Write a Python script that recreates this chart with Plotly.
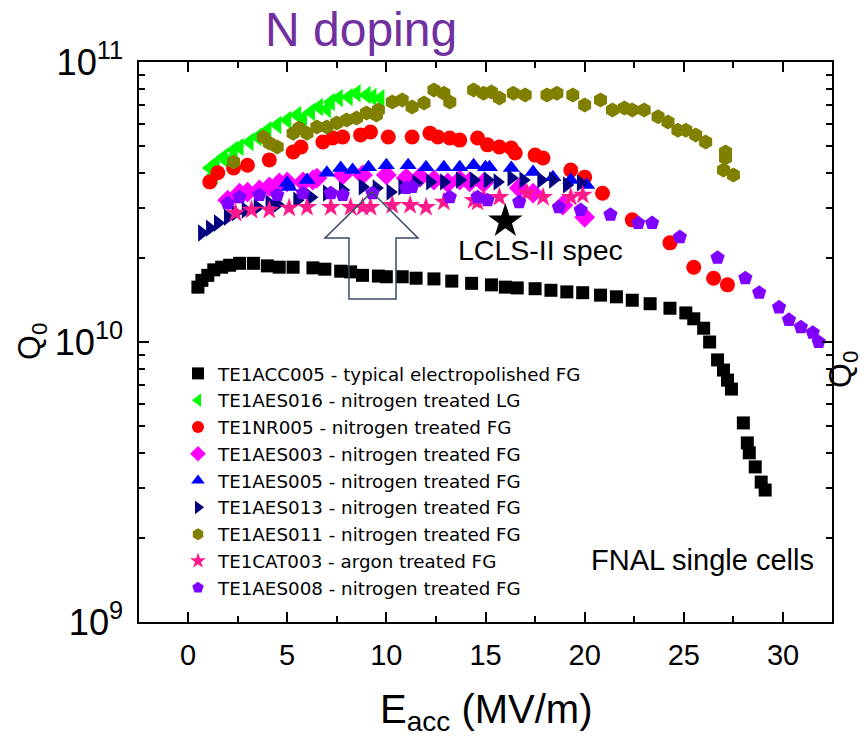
import plotly.graph_objects as go

# ---------------- data (E_acc in MV/m, Q0 in units of 1e10) ----------------
black_x = [0.5,0.7,1.0,1.3,1.7,2.1,2.6,3.3,4.0,4.6,5.3,6.3,6.9,7.7,8.2,8.8,9.6,10.0,10.8,11.5,12.4,13.3,14.3,15.3,16.0,16.6,17.5,18.3,19.1,19.9,20.8,21.6,22.4,23.3,24.3,25.1,25.5,26.0,26.3,26.7,27.0,27.2,27.4,28.0,28.2,28.3,28.6,28.9,29.1]
black_y = [1.57,1.66,1.73,1.81,1.85,1.88,1.91,1.91,1.87,1.85,1.85,1.84,1.82,1.79,1.78,1.73,1.72,1.71,1.71,1.69,1.68,1.65,1.62,1.60,1.57,1.56,1.55,1.53,1.51,1.50,1.47,1.45,1.41,1.37,1.32,1.27,1.21,1.12,1.00,0.863,0.794,0.731,0.679,0.514,0.436,0.402,0.358,0.316,0.296]

green_x = [1.1,1.3,1.4,1.8,2.0,2.3,2.6,3.1,3.5,4.0,4.5,5.0,5.5,5.8,6.2,6.6,7.0,7.2,7.6,8.1,8.5,9.0,9.3,9.7]
green_y = [4.18,3.95,4.35,4.58,4.40,4.85,4.97,5.18,5.40,5.71,5.96,6.21,6.47,6.30,6.63,6.91,6.80,7.20,7.43,7.50,7.74,7.62,7.50,7.43]

red_x = [1.1,1.5,2.3,3.0,4.1,5.3,5.7,6.8,7.3,7.8,8.7,9.2,10.1,11.3,12.2,12.6,13.2,13.7,14.6,15.1,15.7,16.3,16.5,17.5,17.9,19.3,20.0,20.9,22.4,24.3,25.5,26.5,27.2]
red_y = [3.73,4.02,4.18,4.28,4.47,4.77,4.97,5.18,5.35,5.40,5.49,5.62,5.40,5.40,5.57,5.40,5.35,5.26,5.35,5.06,4.97,4.93,4.73,4.65,4.54,4.11,3.88,3.40,2.73,2.26,1.85,1.69,1.60]

magenta_x = [2.0,2.6,3.0,3.6,4.1,4.6,5.0,5.8,6.3,6.5,7.8,8.8,10.0,11.0,11.7,12.4,13.1,13.7,14.2,14.9,16.7,17.4,18.9,20.0]
magenta_y = [3.21,3.40,3.43,3.49,3.58,3.70,3.73,3.73,3.79,3.85,3.95,3.95,3.95,3.85,3.88,3.79,3.70,3.79,3.73,3.70,3.55,3.40,3.08,2.79]

blue_x = [5.0,5.1,6.0,7.0,7.7,8.3,9.1,10.0,11.1,12.0,12.9,13.7,14.4,15.0,15.2,16.3,17.4,18.4,19.3,20.1]
blue_y = [3.70,3.58,3.79,4.02,4.18,4.11,4.21,4.28,4.28,4.21,4.21,4.21,4.28,4.21,4.21,4.18,4.05,3.88,3.79,3.64]

navy_x = [0.7,1.1,1.5,2.0,2.4,2.9,3.5,4.1,4.5,5.5,6.2,7.0,7.8,8.8,9.5,10.2,10.8,11.5,12.2,12.9,13.7,14.4,15.1,15.6,16.3,16.9,17.8,18.4,19.1,19.8]
navy_y = [2.45,2.55,2.66,2.79,2.89,2.96,3.03,3.13,3.10,3.21,3.29,3.40,3.49,3.58,3.55,3.43,3.58,3.70,3.73,3.73,3.79,3.79,3.79,3.73,3.85,3.79,3.79,3.79,3.64,3.70]

olive_x = [2.3,3.8,4.1,4.5,5.3,5.6,6.0,6.5,7.0,7.5,8.0,8.5,9.0,9.5,9.6,10.3,10.8,11.3,11.9,12.4,12.9,13.2,14.4,14.9,15.3,15.7,16.4,17.0,18.1,18.6,19.4,20.0,20.8,21.4,22.0,22.4,23.0,23.7,24.2,24.7,25.1,25.6,26.1,27.1,27.1,27.0,27.5]
olive_y = [4.39,5.40,5.14,4.97,5.57,5.81,5.57,5.86,5.86,6.05,6.21,6.31,6.58,6.47,6.74,7.20,7.31,6.91,7.14,7.94,7.74,7.20,7.94,7.74,7.81,7.43,7.74,7.62,7.62,7.74,7.62,7.02,7.31,6.74,6.85,6.74,6.74,6.37,6.11,5.71,5.71,5.49,5.18,4.77,4.54,4.11,3.95]

pink_x = [2.4,3.2,4.1,5.1,6.0,7.2,8.2,8.8,9.2,10.3,11.2,12.0,12.9,14.4,14.6,14.9,15.7,17.1,17.9,19.3,19.9]
pink_y = [2.89,2.96,2.96,3.01,3.03,3.03,3.03,3.03,3.03,3.08,3.08,3.03,3.16,3.21,3.16,3.29,3.29,3.40,3.29,3.29,3.35]

purple_x = [2.0,2.6,3.6,4.5,5.8,7.2,7.8,9.3,11.0,11.3,13.2,14.6,15.1,16.7,18.7,19.8,21.3,22.7,23.4,24.8,26.7,28.1,28.8,29.8,30.3,30.9,31.5,31.8]
purple_y = [3.13,3.29,3.35,3.35,3.40,3.40,3.35,3.40,3.55,3.58,3.29,3.29,3.21,3.16,3.03,2.96,2.85,2.66,2.66,2.37,2.00,1.69,1.50,1.33,1.20,1.13,1.08,1.00]

spec_x = [16.0]
spec_y = [2.7]

SCALE = 1e10

series = [
    ("TE1ACC005 - typical electropolished FG", black_x, black_y, "#000000", "square", 13),
    ("TE1AES016 - nitrogen treated LG", green_x, green_y, "#00FF00", "triangle-left", 16),
    ("TE1NR005 - nitrogen treated FG", red_x, red_y, "#FF0000", "circle", 15),
    ("TE1AES003 - nitrogen treated FG", magenta_x, magenta_y, "#FF00FF", "diamond", 16),
    ("TE1AES005 - nitrogen treated FG", blue_x, blue_y, "#0000FF", "triangle-up", 15),
    ("TE1AES013 - nitrogen treated FG", navy_x, navy_y, "#000080", "triangle-right", 15),
    ("TE1AES011 - nitrogen treated FG", olive_x, olive_y, "#808000", "hexagon", 15),
    ("TE1CAT003 - argon treated FG", pink_x, pink_y, "#FF1A8C", "star", 15),
    ("TE1AES008 - nitrogen treated FG", purple_x, purple_y, "#8000FF", "pentagon", 15),
]

fig = go.Figure()
for i, (name, xs, ys, col, sym, sz) in enumerate(series):
    fig.add_trace(go.Scatter(
        x=xs, y=[v * SCALE for v in ys], mode="markers", name=name,
        marker=dict(color=col, symbol=sym, size=sz, line=dict(width=0)),
    ))

fig.add_trace(go.Scatter(
    x=spec_x, y=[v * SCALE for v in spec_y], mode="markers", showlegend=False,
    marker=dict(color="#000000", symbol="star", size=26, line=dict(width=0)),
))

SANS = "Liberation Sans, Arial, sans-serif"
axis_font = dict(family=SANS, size=29, color="#000000")

fig.update_xaxes(
    range=[-2.47, 32.47], dtick=5, tick0=0,
    ticks="inside", ticklen=10, tickwidth=1.5, tickcolor="#000",
    minor=dict(dtick=2.5, ticks="inside", ticklen=6, tickwidth=1.5, tickcolor="#000"),
    showline=True, linewidth=2, linecolor="#000", mirror="allticks",
    showgrid=False, zeroline=False, tickfont=axis_font, ticklabelstandoff=6,
)
fig.update_yaxes(
    type="log", range=[9, 11], dtick=1, exponentformat="power",
    ticks="inside", ticklen=10, tickwidth=1.5, tickcolor="#000",
    minor=dict(dtick="D1", ticks="inside", ticklen=6, tickwidth=1.5, tickcolor="#000"),
    showline=True, linewidth=2, linecolor="#000", mirror="allticks",
    showgrid=False, zeroline=False, tickfont=axis_font, ticklabelstandoff=8,
)

def px(xp):
    return (xp - 139) / 693

def py(yp):
    return (622 - yp) / 560

fig.update_layout(
    width=862, height=739,
    margin=dict(l=139, r=30, t=62, b=117),
    paper_bgcolor="white", plot_bgcolor="white",
    showlegend=True,
    legend=dict(
        x=px(178), y=py(355), xanchor="left", yanchor="top",
        bgcolor="rgba(0,0,0,0)", borderwidth=0,
        font=dict(family="DejaVu Sans, Verdana, sans-serif", size=18.3, color="#000"),
        itemsizing="constant", tracegroupgap=0,
    ),
    annotations=[
        dict(text="N doping", x=px(361), y=py(30), xref="paper", yref="paper",
             xanchor="center", yanchor="middle", showarrow=False,
             font=dict(family=SANS, size=48, color="#7030A0")),
        dict(text="E<sub>acc</sub> (MV/m)", x=0.5, y=py(712), xref="paper", yref="paper",
             xanchor="center", yanchor="middle", showarrow=False,
             font=dict(family=SANS, size=40, color="#000")),
        dict(text="Q<sub>0</sub>", x=px(31), y=py(342), xref="paper", yref="paper",
             xanchor="center", yanchor="middle", textangle=-90, showarrow=False,
             font=dict(family=SANS, size=32, color="#000")),
        dict(text="Q<sub>0</sub>", x=px(842), y=py(370), xref="paper", yref="paper",
             xanchor="center", yanchor="middle", textangle=-90, showarrow=False,
             font=dict(family=SANS, size=32, color="#000")),
        dict(text="LCLS-II spec", x=px(540), y=py(250), xref="paper", yref="paper",
             xanchor="center", yanchor="middle", showarrow=False,
             font=dict(family=SANS, size=28.5, color="#000")),
        dict(text="FNAL single cells", x=px(702), y=py(560), xref="paper", yref="paper",
             xanchor="center", yanchor="middle", showarrow=False,
             font=dict(family=SANS, size=29, color="#000")),
    ],
    shapes=[
        dict(type="path", xref="paper", yref="paper",
             path="M 0.336 0.768 L 0.4026 0.6857 L 0.3709 0.6857 L 0.3709 0.5768 "
                  "L 0.3030 0.5768 L 0.3030 0.6857 L 0.2684 0.6857 Z",
             line=dict(color="#3A4A66", width=1.5), fillcolor="rgba(0,0,0,0)", layer="above"),
    ],
)

fig.write_html(
    "out.html",
    config={"displayModeBar": False},
    post_script="document.body.style.margin='0px';"
                "document.body.style.overflow='hidden';"
                "document.documentElement.style.overflow='hidden';",
)
